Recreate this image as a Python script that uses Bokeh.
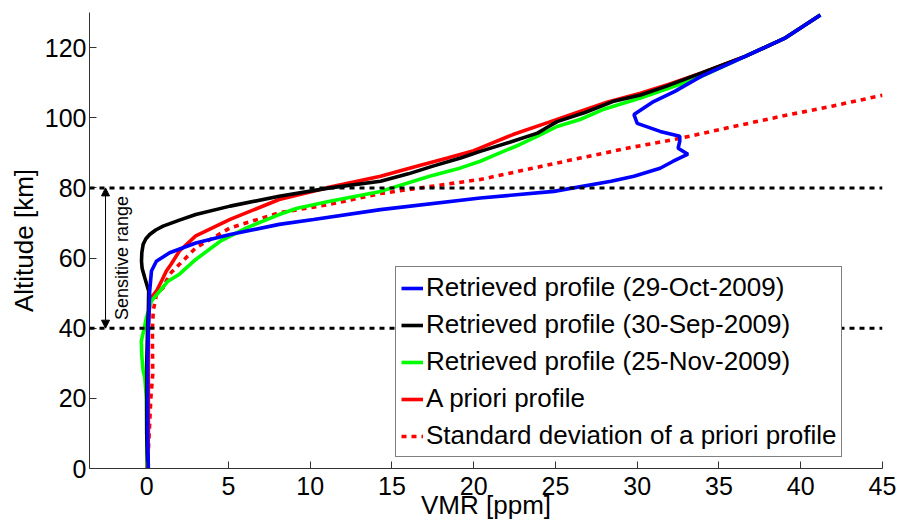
import math
from bokeh.plotting import figure
from bokeh.models import (Range1d, FixedTicker, Span, Arrow, NormalHead,
                          Legend, LegendItem, Label)
from bokeh.embed import file_html
from bokeh.resources import INLINE

# ---------------- data (VMR [ppm] vs altitude [km]) ----------------
oct_alt = [0, 10, 20, 30, 40, 46, 50.6, 56.3, 59.1, 61.5, 64.3, 66.7, 69.6, 71.0,
           73.8, 77.1, 79.0, 81.9, 83.3, 85.6, 87.6, 89.6, 91.3, 93.3, 94.7, 96.1,
           98.4, 100.9, 104.6, 107.5, 111.8, 116.0, 122.6, 129.3]
oct_vmr = [0.10, 0.05, 0.05, 0.05, 0.10, 0.15, 0.18, 0.29, 0.59, 1.4, 3.0, 5.1, 8.1, 10.2,
           14.3, 20.4, 24.9, 28.4, 29.8, 31.4, 32.2, 33.1, 32.5, 32.6, 32.6, 31.4,
           30.0, 29.8, 31.0, 32.3, 33.9, 35.9, 39.0, 41.2]

sep_alt = [0, 10, 20, 30, 40, 45, 50.6, 54.4, 57.0, 59.1, 61.5, 63.9, 65.5, 66.7, 68.0,
           69.1, 70.8, 72.4, 74.8, 77.6, 80.0, 81.9, 84.0, 86.2, 88.5, 90.4, 93.0, 95.6,
           97.0, 98.9, 101.5, 104.6, 106.5, 109.0, 112.7, 117.5, 122.6, 129.3]
sep_vmr = [0.05, 0.0, 0.0, 0.0, 0.05, 0.1, 0.12, -0.12, -0.28, -0.32, -0.30, -0.22, -0.05,
           0.18, 0.55, 1.0, 2.0, 3.0, 5.1, 8.1, 11.2, 14.3, 16.0, 17.5, 19.2, 20.4, 22.2,
           23.9, 24.4, 25.1, 26.8, 28.5, 30.2, 31.8, 33.9, 36.6, 39.0, 41.2]

nov_alt = [0, 10, 20, 26.0, 27.9, 32.0, 36.4, 40.0, 43.0, 47.8, 50.6, 53.4, 55.4, 59.6,
           64.8, 68.6, 72.4, 74.2, 76.2, 79.0, 83.3, 85.7, 87.6, 90.0, 92.3, 95.0, 97.5,
           99.5, 102.5, 105.6, 108.5, 111.7, 117.5, 122.6, 129.3]
nov_vmr = [0.05, 0.0, -0.02, -0.12, -0.22, -0.30, -0.33, -0.15, -0.02, 0.29, 0.8, 1.3, 2.0,
           3.0, 4.5, 6.1, 8.1, 9.2, 11.2, 14.3, 17.3, 19.2, 20.4, 21.6, 22.8, 24.0, 25.1,
           26.5, 28.0, 30.2, 32.0, 33.9, 36.6, 39.0, 41.2]

apriori_alt = [0, 10, 20, 30, 40, 45, 48.6, 50.6, 53.4, 56.3, 58.3, 62.0, 66.3, 71.0, 76.7,
               80.0, 83.3, 86.0, 88.5, 90.6, 95.2, 98.9, 101.8, 104.5, 107.0, 109.5, 112.7,
               117.5, 122.6, 129.3]
apriori_vmr = [0.05, 0.1, 0.1, 0.1, 0.1, 0.15, 0.25, 0.6, 0.9, 1.2, 1.5, 2.0, 3.0, 5.1, 8.1,
               11.0, 14.3, 16.4, 18.4, 20.0, 22.4, 24.7, 26.5, 28.2, 30.2, 31.9, 33.9,
               36.6, 39.0, 41.2]

std_alt = [0, 10, 20, 27, 35, 40, 45, 49.8, 51.5, 55.4, 58.2, 62.9, 64.8, 68.6, 72.9, 75.3,
           78.4, 82.4, 85.5, 88.5, 91.5, 94.1, 97.3, 100.4, 103.3, 106.4]
std_vmr = [0.05, 0.15, 0.25, 0.37, 0.35, 0.35, 0.4, 0.6, 1.0, 1.4, 2.0, 3.0, 3.7, 5.1, 8.1,
           11.2, 14.3, 20.4, 23.5, 26.5, 29.6, 32.6, 35.7, 38.8, 41.9, 45.0]

sensitive_range = [40, 80]
x_ticks = [0, 5, 10, 15, 20, 25, 30, 35, 40, 45]
y_ticks = [0, 20, 40, 60, 80, 100, 120]
labels = ["Retrieved profile (29-Oct-2009)", "Retrieved profile (30-Sep-2009)",
          "Retrieved profile (25-Nov-2009)", "A priori profile",
          "Standard deviation of a priori profile"]

FONT = "Liberation Sans"

p = figure(width=899, height=525, output_backend="svg", toolbar_location=None,
           x_range=Range1d(-3.5, 45), y_range=Range1d(0, 130),
           min_border_left=89, min_border_right=17, min_border_top=12, min_border_bottom=57)
p.outline_line_color = None
p.grid.visible = False
p.background_fill_color = "white"
p.border_fill_color = "white"

p.xaxis.ticker = FixedTicker(ticks=x_ticks, minor_ticks=[])
p.yaxis.ticker = FixedTicker(ticks=y_ticks, minor_ticks=[])
for ax in (p.xaxis, p.yaxis):
    ax.major_tick_in = 7
    ax.major_tick_out = 0
    ax.minor_tick_in = 0
    ax.minor_tick_out = 0
    ax.axis_line_color = "#333333"
    ax.major_tick_line_color = "#333333"
    ax.major_label_text_font = FONT
    ax.major_label_text_font_size = "25px"
    ax.major_label_text_color = "black"
    ax.axis_label_text_font = FONT
    ax.axis_label_text_font_size = "26px"
    ax.axis_label_text_font_style = "normal"
    ax.axis_label_text_color = "black"
p.xaxis.axis_label = "VMR [ppm]"
p.yaxis.axis_label = "Altitude [km]"
p.xaxis.major_label_standoff = 8
p.xaxis.axis_label_standoff = -8
p.yaxis.major_label_standoff = 3
p.yaxis.axis_label_standoff = 3

LW = 3.6
r_std = p.line(std_vmr, std_alt, line_color="#ff0000", line_width=LW, line_dash="5 5")
r_apr = p.line(apriori_vmr, apriori_alt, line_color="#ff0000", line_width=LW)
r_nov = p.line(nov_vmr, nov_alt, line_color="#00ff00", line_width=LW)
r_sep = p.line(sep_vmr, sep_alt, line_color="black", line_width=LW)
r_oct = p.line(oct_vmr, oct_alt, line_color="#0000ff", line_width=LW)

for loc in sensitive_range:
    p.add_layout(Span(location=loc, dimension="width", line_color="black",
                      line_width=3, line_dash="5 5"))

arrow_x = -2.52
p.add_layout(Arrow(start=NormalHead(size=8, fill_color="black", line_color="black"),
                   end=NormalHead(size=8, fill_color="black", line_color="black"),
                   x_start=arrow_x, y_start=sensitive_range[0],
                   x_end=arrow_x, y_end=sensitive_range[1],
                   line_color="black", line_width=1))
p.add_layout(Label(x=-1.5, y=sum(sensitive_range) / 2, text="Sensitive range",
                   angle=math.pi / 2, text_align="center", text_baseline="middle",
                   text_font=FONT, text_font_size="18px", text_color="black"))

legend = Legend(items=[LegendItem(label=labels[0], renderers=[r_oct]),
                       LegendItem(label=labels[1], renderers=[r_sep]),
                       LegendItem(label=labels[2], renderers=[r_nov]),
                       LegendItem(label=labels[3], renderers=[r_apr]),
                       LegendItem(label=labels[4], renderers=[r_std])],
                location=(306, 11))
legend.label_text_font = FONT
legend.label_text_font_size = "26px"
legend.label_text_color = "black"
legend.glyph_width = 22
legend.glyph_height = 30
legend.label_height = 30
legend.label_standoff = 3
legend.spacing = 6
legend.padding = 5
legend.margin = 0
legend.border_line_color = "black"
legend.border_line_width = 1
legend.background_fill_color = "white"
legend.background_fill_alpha = 1.0
p.add_layout(legend)

open("out.html", "w").write(file_html(p, INLINE))
